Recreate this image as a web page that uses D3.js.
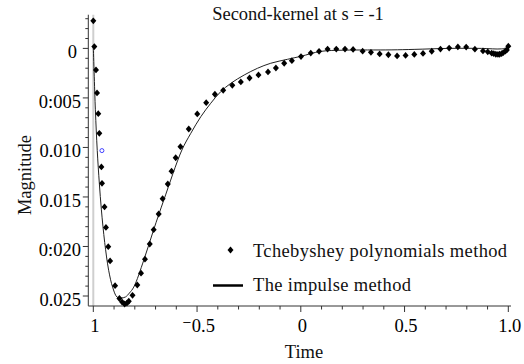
<!DOCTYPE html>
<html lang="en">
<head>
<meta charset="utf-8">
<title>Second-kernel at s = -1</title>
<script src="https://d3js.org/d3.v7.min.js"></script>
<style>
  body { margin: 0; background: #fff; }
</style>
</head>
<body>
<script>
// Tchebyshev polynomials method (points)
const chebX = [-1.000, -0.995, -0.987, -0.982, -0.976, -0.971, -0.961, -0.958, -0.946, -0.939,
  -0.928, -0.919, -0.895, -0.874, -0.861, -0.849, -0.838, -0.829, -0.811, -0.788,
  -0.770, -0.751, -0.728, -0.709, -0.685, -0.666, -0.641, -0.623, -0.603, -0.580,
  -0.540, -0.499, -0.456, -0.414, -0.374, -0.330, -0.289, -0.247, -0.204, -0.158,
  -0.120, -0.080, -0.043, 0.001, 0.048, 0.088, 0.129, 0.171, 0.213, 0.252,
  0.298, 0.338, 0.380, 0.422, 0.464, 0.505, 0.547, 0.589, 0.631, 0.673,
  0.715, 0.757, 0.797, 0.839, 0.878, 0.901, 0.920, 0.930, 0.940, 0.950,
  0.958, 0.968, 0.976, 0.986, 0.993, 1.000];
const chebY = [0.00278, 0.00018, -0.00217, -0.00450, -0.00659, -0.00857, -0.01197, -0.01362, -0.01601, -0.01808,
  -0.02002, -0.02146, -0.02396, -0.02525, -0.02561, -0.02581, -0.02571, -0.02553, -0.02493, -0.02389,
  -0.02270, -0.02128, -0.01975, -0.01830, -0.01672, -0.01517, -0.01369, -0.01240, -0.01104, -0.00992,
  -0.00814, -0.00662, -0.00548, -0.00463, -0.00423, -0.00373, -0.00339, -0.00299, -0.00268, -0.00238,
  -0.00198, -0.00150, -0.00124, -0.00083, -0.00047, -0.00030, -0.00007, -0.00007, -0.00007, -0.00010,
  -0.00028, -0.00040, -0.00056, -0.00064, -0.00076, -0.00071, -0.00061, -0.00051, -0.00029, -0.00007,
  0.00003, 0.00015, 0.00013, -0.00008, -0.00025, -0.00035, -0.00048, -0.00053, -0.00059, -0.00061,
  -0.00059, -0.00052, -0.00042, -0.00028, -0.00015, 0.00022];

// The impulse method (line)
const impX = [-1.000, -0.990, -0.981, -0.971, -0.961, -0.945, -0.926, -0.907, -0.886, -0.867,
  -0.845, -0.826, -0.805, -0.757, -0.709, -0.660, -0.573, -0.530, -0.482,
  -0.434, -0.386, -0.337, -0.273, -0.209, -0.145, -0.064, 0.000, 0.097, 0.208,
  0.435, 0.546, 0.710, 0.870, 0.966, 1.000];
const impY = [0.00020, -0.00620, -0.01030, -0.01360, -0.01630, -0.01960, -0.02240, -0.02410, -0.02510, -0.02520,
  -0.02510, -0.02470, -0.02410, -0.02140, -0.01830, -0.01530, -0.01026, -0.00857, -0.00690,
  -0.00554, -0.00437, -0.00352, -0.00269, -0.00201, -0.00150, -0.00110, -0.00080, -0.00030, -0.00018,
  -0.00015, -0.00010, 0.00000, 0.00000, -0.00005, 0.00010];

// stray blue marker
const strayX = [-0.9585];
const strayY = [-0.01032];

const xTicks = [-1, -0.5, 0, 0.5, 1];
const xTickLabels = ["1", "\u207B0.5", "0", "0.5", "1.0"];
const yTicks = [0, -0.005, -0.010, -0.015, -0.020, -0.025];
const yTickLabels = ["0", "0:005", "0.010", "0.015", "0:020", "0.025"];
const legendLabels = ["Tchebyshey polynomials method", "The impulse method"];

const width = 524, height = 364;
const x = d3.scaleLinear().domain([-1, 1]).range([93.3, 508.3]);
const y = d3.scaleLinear().domain([-0.025, 0]).range([296, 48.4]);
const yTop = 0.0034, yBottom = -0.0260;
const fontSize = 18.5;
const serif = "'Liberation Serif', 'DejaVu Serif', serif";

const svg = d3.select("body").append("svg")
  .attr("width", width).attr("height", height)
  .style("font-family", serif);

// grey vertical line at t = -1
svg.append("line")
  .attr("x1", x(-1)).attr("x2", x(-1))
  .attr("y1", y(yTop)).attr("y2", y(yBottom))
  .attr("stroke", "#cfcfcf").attr("stroke-width", 2);

// y axis
const axisX = 88.3;
svg.append("line")
  .attr("x1", axisX).attr("x2", axisX)
  .attr("y1", y(yTop)).attr("y2", y(yBottom))
  .attr("stroke", "#333").attr("stroke-width", 1);
const yMinor = d3.range(3, -26, -1).map(d => d / 1000);
svg.selectAll(".ytick").data(yMinor).join("line")
  .attr("x1", d => axisX - (Math.abs(Math.round(d * 1000)) % 5 === 0 ? 5.5 : 3))
  .attr("x2", axisX)
  .attr("y1", d => y(d)).attr("y2", d => y(d))
  .attr("stroke", "#333").attr("stroke-width", 1);
svg.selectAll(".ylab").data(yTicks).join("text")
  .attr("x", (d, i) => i === 0 ? 77 : 81)
  .attr("y", d => y(d) + 10)
  .attr("text-anchor", "end")
  .attr("font-family", serif)
  .attr("font-size", fontSize)
  .text((d, i) => yTickLabels[i]);

// x axis
const axisY = 306;
svg.append("line")
  .attr("x1", axisX).attr("x2", 511)
  .attr("y1", axisY).attr("y2", axisY)
  .attr("stroke", "#333").attr("stroke-width", 1);
const xMinor = d3.range(-10, 11).map(d => d / 10);
svg.selectAll(".xtick").data(xMinor).join("line")
  .attr("x1", d => x(d)).attr("x2", d => x(d))
  .attr("y1", axisY)
  .attr("y2", (d, i) => axisY + (i % 5 === 0 ? 6 : 3.5))
  .attr("stroke", "#333").attr("stroke-width", 1);
svg.selectAll(".xlab").data(xTicks).join("text")
  .attr("x", d => x(d) + 1.5)
  .attr("y", 331.5)
  .attr("text-anchor", "middle")
  .attr("font-family", serif)
  .attr("font-size", fontSize)
  .text((d, i) => xTickLabels[i]);

// impulse method curve
const impData = impX.map((d, i) => [d, impY[i]]);
svg.append("path")
  .datum(impData)
  .attr("fill", "none")
  .attr("stroke", "#222")
  .attr("stroke-width", 1)
  .attr("d", d3.line().x(d => x(d[0])).y(d => y(d[1])).curve(d3.curveCatmullRom));

// Tchebyshev points
const diamond = "M0,-3.4L3,0L0,3.4L-3,0Z";
const chebData = chebX.map((d, i) => [d, chebY[i]]);
svg.selectAll(".pt").data(chebData).join("path")
  .attr("d", diamond)
  .attr("transform", d => `translate(${x(d[0])},${y(d[1])})`)
  .attr("fill", "#000");

// stray blue point
svg.selectAll(".stray").data(strayX.map((d, i) => [d, strayY[i]])).join("circle")
  .attr("cx", d => x(d[0])).attr("cy", d => y(d[1]))
  .attr("r", 2).attr("fill", "none").attr("stroke", "#4040ff").attr("stroke-width", 1);

// title and axis labels
function label(xp, yp, txt, anchor) {
  return svg.append("text").attr("x", xp).attr("y", yp)
    .attr("text-anchor", anchor || "start")
    .attr("font-family", serif).attr("font-size", fontSize)
    .attr("fill", "#111").text(txt);
}
label(298, 20, "Second-kernel at s = -1", "middle");
label(304, 358, "Time", "middle");
label(0, 0, "Magnitude", "middle").attr("transform", "translate(31,175) rotate(-90)");

// legend
svg.append("path").attr("d", diamond).attr("transform", "translate(230.5,250)").attr("fill", "#000");
label(253, 256.5, legendLabels[0]).attr("letter-spacing", 0.35);
svg.append("line").attr("x1", 213).attr("x2", 243).attr("y1", 285.5).attr("y2", 285.5)
  .attr("stroke", "#000").attr("stroke-width", 2.5);
label(253, 291, legendLabels[1]).attr("letter-spacing", 0.35);
</script>
</body>
</html>
